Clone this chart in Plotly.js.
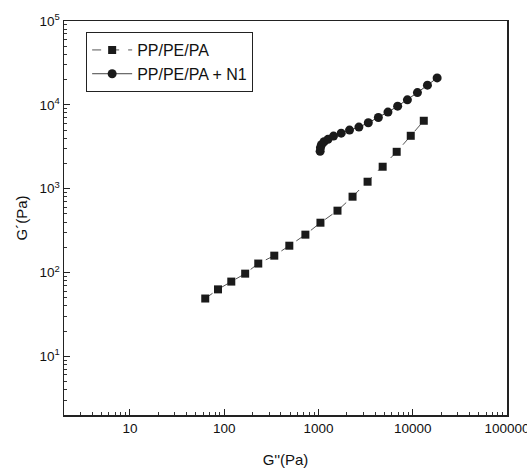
<!DOCTYPE html>
<html>
<head>
<meta charset="utf-8">
<script src="https://cdn.plot.ly/plotly-3.0.1.min.js"></script>
<style>html,body{margin:0;padding:0;background:#fff;}#chart{width:527px;height:472px;}</style>
</head>
<body>
<div id="chart"></div>
<script>
// PP/PE/PA (squares)
const sqX = [63, 86, 119, 167, 230, 340, 491, 727, 1050, 1592, 2300, 3320, 4800, 6760, 9530, 13100];
const sqY = [49, 63, 78, 97, 128, 159, 209, 283, 393, 547, 803, 1211, 1828, 2754, 4275, 6460];
// PP/PE/PA + N1 (circles)
const ciX = [1042, 1050, 1076, 1146, 1262, 1445, 1743, 2137, 2685, 3380, 4320, 5460, 6920, 8780, 11220, 14330, 18150];
const ciY = [2790, 3080, 3340, 3630, 3880, 4240, 4600, 5000, 5430, 6110, 7060, 8190, 9650, 11470, 14000, 17170, 20950];

const xTickVals = [10, 100, 1000, 10000, 100000];
const xTickText = ['10', '100', '1000', '10000', '100000'];
const yTickVals = [10, 100, 1000, 10000, 100000];
const yTickText = ['10<sup>1</sup>', '10<sup>2</sup>', '10<sup>3</sup>', '10<sup>4</sup>', '10<sup>5</sup>'];

// minor tick positions (2..9 within each decade)
const minorVals = [];
for (let p = 0; p <= 4; p++) {
  for (let k = 2; k <= 9; k++) minorVals.push(k * Math.pow(10, p));
}

const font = 'Liberation Sans, Arial, sans-serif';

const traces = [
  {
    x: sqX, y: sqY, name: 'PP/PE/PA', type: 'scatter', mode: 'lines+markers',
    line: {color: '#555', width: 1, dash: 'dash'},
    marker: {symbol: 'square', size: 8, color: '#1a1a1a'}
  },
  {
    x: ciX, y: ciY, name: 'PP/PE/PA + N1', type: 'scatter', mode: 'lines+markers',
    line: {color: '#444', width: 1},
    marker: {symbol: 'circle', size: 9, color: '#1a1a1a'}
  }
];

const axisCommon = {
  type: 'log',
  showgrid: false, zeroline: false,
  showline: true, linecolor: '#222', linewidth: 1.5, mirror: true,
  ticks: 'inside', ticklen: 6, tickcolor: '#222', tickwidth: 1,
  minor: {tickmode: 'array', tickvals: minorVals, ticks: 'inside', ticklen: 3, tickcolor: '#333', tickwidth: 1, showgrid: false},
  tickfont: {family: font, size: 13.5, color: '#111'},
  ticklabeloverflow: 'allow'
};

const layout = {
  width: 527, height: 472,
  margin: {l: 64, r: 20, t: 21, b: 57},
  paper_bgcolor: '#fff', plot_bgcolor: '#fff',
  font: {family: font, color: '#111'},
  showlegend: true,
  legend: {
    x: 0.05, y: 0.972, xanchor: 'left', yanchor: 'top',
    bordercolor: '#222', borderwidth: 1, bgcolor: '#fff',
    font: {family: font, size: 16, color: '#111'},
    tracegroupgap: 0, itemwidth: 40
  },
  xaxis: Object.assign({}, axisCommon, {
    range: [Math.log10(2), 5],
    tickmode: 'array', tickvals: xTickVals, ticktext: xTickText,
    title: {text: "G''(Pa)", font: {family: font, size: 15, color: '#111'}, standoff: 20}
  }),
  yaxis: Object.assign({}, axisCommon, {
    range: [Math.log10(2), 5],
    tickmode: 'array', tickvals: yTickVals, ticktext: yTickText,
    title: {text: 'G´(Pa)', font: {family: font, size: 15, color: '#111'}, standoff: 8}
  })
};

Plotly.newPlot('chart', traces, layout, {displayModeBar: false, staticPlot: true});
</script>
</body>
</html>
